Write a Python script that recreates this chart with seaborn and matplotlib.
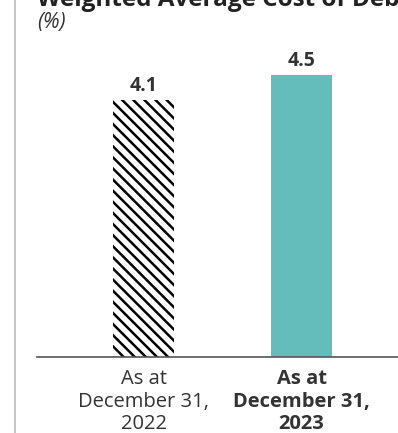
import matplotlib
matplotlib.use("Agg")
import matplotlib.pyplot as plt
import seaborn as sns

# data
categories = ["As at\nDecember 31,\n2022", "As at\nDecember 31,\n2023"]
values = [4.1, 4.5]
value_labels = ["4.1", "4.5"]
bar_colors = ["white", "#64bdbb"]

sns.set_style("white")
plt.rcParams["font.family"] = ["Open Sans", "DejaVu Sans"]
plt.rcParams["hatch.linewidth"] = 1.8

fig = plt.figure(figsize=(3.98, 4.33), dpi=100)
ax = fig.add_axes([37 / 398, 76 / 433, 361 / 398, 316 / 433])

sns.barplot(x=categories, y=values, hue=categories, palette=bar_colors,
            legend=False, width=0.386, ax=ax, saturation=1)

# hatched previous year
p0 = ax.patches[0]
p0.set_hatch("\\\\\\")
p0.set_edgecolor("black")
p0.set_linewidth(0)
ax.patches[1].set_linewidth(0)

for bar, lab in zip(ax.patches, value_labels):
    ax.text(bar.get_x() + bar.get_width() / 2, bar.get_height() + 0.06, lab,
            ha="center", va="bottom", fontsize=14, fontweight="bold", color="#333333")

ax.set_xlim(-0.674, 1.61)
ax.set_ylim(0, 5.04)
ax.set_yticks([])
ax.set_ylabel("")
ax.tick_params(axis="x", length=0, pad=9, labelsize=14.5, labelcolor="#333333")
for t in ax.get_xticklabels():
    t.set_linespacing(1.15)
ax.get_xticklabels()[1].set_fontweight("bold")

for s in ["top", "right", "left"]:
    ax.spines[s].set_visible(False)
ax.spines["bottom"].set_color("#555555")
ax.spines["bottom"].set_linewidth(1.2)

# titles
fig.text(37 / 398, 1 - 6 / 433, "Weighted Average Cost of Debt", fontsize=17.5,
         fontweight="bold", color="#222222", va="baseline", ha="left")
fig.text(37 / 398, 1 - 28 / 433, "(%)", fontsize=15, style="italic",
         color="#333333", va="baseline", ha="left")

# left border
fig.add_artist(plt.Line2D([15 / 398, 15 / 398], [0, 1], color="#bbbbbb", lw=1.2))

fig.savefig("out.png", dpi=100)
